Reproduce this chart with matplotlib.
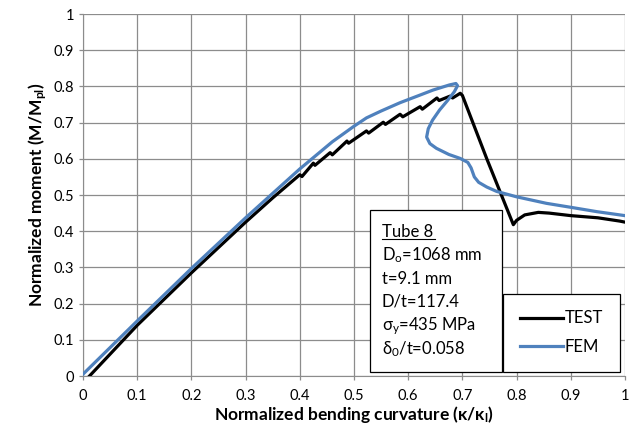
import matplotlib
matplotlib.use('Agg')
from matplotlib import pyplot as plt
from matplotlib.patches import Rectangle
import numpy as np

plt.rcParams['font.family'] = ['Lato', 'DejaVu Sans']
plt.rcParams['mathtext.default'] = 'regular'

# measured test curve
test_x = [0.012, 0.1, 0.2, 0.3, 0.35, 0.4, 0.404, 0.425, 0.428, 0.456, 0.46,
          0.487, 0.49, 0.523, 0.527, 0.554, 0.558, 0.585, 0.59, 0.622, 0.626,
          0.653, 0.657, 0.677, 0.682, 0.696, 0.70, 0.745, 0.794, 0.80, 0.815,
          0.84, 0.86, 0.9, 0.95, 0.99, 1.0]
test_y = [0.0, 0.14, 0.285, 0.425, 0.492, 0.556, 0.551, 0.588, 0.582, 0.617, 0.611,
          0.649, 0.643, 0.677, 0.671, 0.701, 0.695, 0.723, 0.716, 0.744, 0.737,
          0.768, 0.761, 0.773, 0.768, 0.781, 0.775, 0.6, 0.418, 0.43, 0.445,
          0.452, 0.45, 0.443, 0.437, 0.428, 0.425]

# FE model curve
fem_x = [0.0, 0.1, 0.2, 0.3, 0.4, 0.46, 0.5, 0.523, 0.55, 0.585, 0.62, 0.646,
         0.676, 0.688, 0.691, 0.685, 0.672, 0.658, 0.645, 0.637, 0.634, 0.64,
         0.652, 0.675, 0.696, 0.71, 0.716, 0.722, 0.73, 0.745, 0.763, 0.8,
         0.855, 0.9, 0.948, 1.0]
fem_y = [0.005, 0.152, 0.297, 0.437, 0.572, 0.647, 0.69, 0.713, 0.732, 0.755,
         0.775, 0.79, 0.804, 0.808, 0.802, 0.785, 0.76, 0.735, 0.707, 0.683,
         0.66, 0.642, 0.629, 0.612, 0.601, 0.59, 0.575, 0.55, 0.535, 0.522,
         0.51, 0.495, 0.477, 0.466, 0.454, 0.443]

info_lines = ['Tube 8', 'D$_o$=1068 mm', 't=9.1 mm', 'D/t=117.4',
              '$\\sigma_y$=435 MPa', '$\\delta_0$/t=0.058']
ticks = np.round(np.arange(0, 1.01, 0.1), 1)
tick_labels = ['0' if t == 0 else ('1' if t == 1 else f'{t:g}') for t in ticks]

fig = plt.figure(figsize=(6.36, 4.36), dpi=100)
ax = fig.add_axes([83 / 636, 1 - 376 / 436, 542 / 636, 362 / 436])

ax.plot(test_x, test_y, color='black', lw=2.3, label='TEST', zorder=3)
ax.plot(fem_x, fem_y, color='#4f81bd', lw=2.3, label='FEM', zorder=3)

ax.set_xlim(0, 1)
ax.set_ylim(0, 1)
ax.set_xticks(ticks)
ax.set_yticks(ticks)
ax.set_xticklabels(tick_labels)
ax.set_yticklabels(tick_labels)
ax.grid(True, color='#8c8c8c', lw=0.9)
ax.set_axisbelow(True)
for s in ['top', 'right']:
    ax.spines[s].set_visible(False)
for s in ['left', 'bottom']:
    ax.spines[s].set_color('#8c8c8c')
ax.tick_params(colors='#8c8c8c', labelcolor='black', labelsize=10.5,
               length=3, width=0.9)
ax.tick_params(axis='x', pad=6)

ax.set_xlabel('Normalized bending curvature (\u03ba/\u03ba$_l$)',
              fontweight='bold', fontsize=12.5, labelpad=1)
ax.set_ylabel('Normalized moment (M/M$_{pl}$)', fontweight='bold',
              fontsize=12.5, labelpad=3)

# info box
ax.add_patch(Rectangle((0.5295, 0.012), 0.243, 0.447, transform=ax.transAxes,
                       facecolor='white', edgecolor='black', lw=0.9, zorder=4))
ys = [0.384, 0.319, 0.254, 0.191, 0.126, 0.061]
for line, yy in zip(info_lines, ys):
    ax.text(0.551, yy, line, transform=ax.transAxes, fontsize=12,
            va='baseline', ha='left', zorder=5)
ax.plot([0.551, 0.649], [0.3776, 0.3776], transform=ax.transAxes,
        color='black', lw=0.8, zorder=5)

leg = ax.legend(loc='lower right', bbox_to_anchor=(0.99, 0.012),
                borderaxespad=0, fancybox=False, fontsize=12,
                handlelength=2.6, handletextpad=0.1, framealpha=1,
                borderpad=1.0, labelspacing=0.75)
leg.get_frame().set_edgecolor('black')
leg.get_frame().set_linewidth(0.9)
leg.set_zorder(6)

fig.savefig('out.png', dpi=100)
